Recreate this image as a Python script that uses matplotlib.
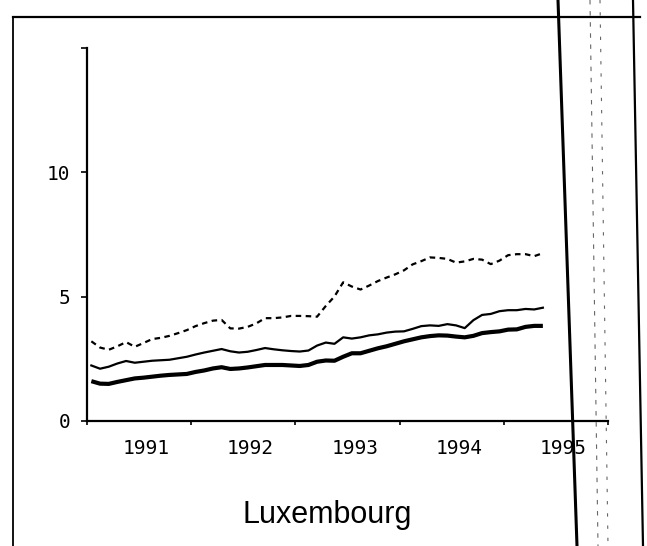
import matplotlib
matplotlib.use('Agg')
import matplotlib.pyplot as plt
from matplotlib.lines import Line2D
import numpy as np

# monthly series, Jan 1991 - May 1995
start_year = 1991
years = [1991, 1992, 1993, 1994, 1995]

dashed = [3.20, 2.95, 2.86, 3.00, 3.17, 2.98, 3.13, 3.29, 3.34, 3.42,
          3.53, 3.65, 3.81, 3.93, 4.03, 4.06, 3.72, 3.71, 3.78, 3.92,
          4.13, 4.13, 4.16, 4.22, 4.22, 4.21, 4.19, 4.62, 5.00, 5.57,
          5.40, 5.28, 5.44, 5.62, 5.76, 5.89, 6.05, 6.29, 6.42, 6.57,
          6.55, 6.51, 6.36, 6.41, 6.51, 6.48, 6.30, 6.44, 6.66, 6.70,
          6.70, 6.62, 6.74]

thin = [2.23, 2.10, 2.18, 2.31, 2.41, 2.34, 2.38, 2.42, 2.44, 2.46,
        2.52, 2.58, 2.67, 2.75, 2.82, 2.89, 2.80, 2.75, 2.78, 2.85,
        2.93, 2.88, 2.84, 2.81, 2.79, 2.83, 3.03, 3.15, 3.10, 3.36,
        3.31, 3.36, 3.44, 3.48, 3.55, 3.59, 3.60, 3.70, 3.81, 3.84,
        3.82, 3.89, 3.84, 3.73, 4.05, 4.26, 4.30, 4.41, 4.45, 4.45,
        4.50, 4.48, 4.55]

thick = [1.60, 1.50, 1.49, 1.57, 1.64, 1.71, 1.74, 1.78, 1.82, 1.85,
         1.87, 1.89, 1.97, 2.03, 2.11, 2.16, 2.09, 2.11, 2.15, 2.20,
         2.25, 2.25, 2.25, 2.23, 2.21, 2.25, 2.38, 2.43, 2.42, 2.58,
         2.72, 2.72, 2.82, 2.92, 3.00, 3.10, 3.20, 3.28, 3.36, 3.41,
         3.44, 3.43, 3.39, 3.36, 3.42, 3.53, 3.57, 3.60, 3.67, 3.68,
         3.78, 3.82, 3.82]

yticks = [0, 5, 10, 15]
ylabels = ['0', '5', '10', '']

W, H = 647, 546
fig = plt.figure(figsize=(W / 100, H / 100), dpi=100)
ax = fig.add_axes([87 / W, 125 / H, 521 / W, 373.5 / H])

x = start_year + (np.arange(len(thin)) + 0.5) / 12

ax.plot(x, dashed, color='black', lw=1.6, linestyle=(0, (2.5, 2)))
ax.plot(x, thin, color='black', lw=1.6)
ax.plot(x, thick, color='black', lw=3.0, solid_capstyle='butt')

ax.set_xlim(1991, 1996)
ax.set_ylim(0, 15)

for s in ['top', 'right']:
    ax.spines[s].set_visible(False)
for s in ['left', 'bottom']:
    ax.spines[s].set_linewidth(1.6)

mono = 'DejaVu Sans Mono'
ax.set_yticks(yticks)
ax.set_yticklabels(ylabels, fontsize=14, family=mono)
ax.tick_params(axis='y', direction='out', length=4, width=1.2, pad=8)

# year boundaries as ticks, year names between them
ax.set_xticks(list(range(1991, 1997)))
ax.set_xticklabels([''] * 6)
ax.tick_params(axis='x', which='major', direction='out', length=3, width=1.2)
ax.set_xticks([y + 0.57 for y in years], minor=True)
ax.set_xticklabels([str(y) for y in years], minor=True, fontsize=14, family=mono)
ax.tick_params(axis='x', which='minor', length=0, pad=13)

fig.text(327 / W, 1 - 515 / H, 'Luxembourg', ha='center', va='center',
         fontsize=22, family='Liberation Sans')


# frame and scan lines, in pixel coords of the page
def page_line(x0, y0, x1, y1, **kw):
    fig.add_artist(Line2D([x0 / W, x1 / W], [1 - y0 / H, 1 - y1 / H],
                          transform=fig.transFigure, color='black', **kw))


page_line(13, 17, 640, 17, lw=1.6)
page_line(13, 17, 13, 546, lw=1.3)
page_line(558, 0, 577, 546, lw=2.2)
page_line(633, 0, 643, 546, lw=1.6)
page_line(590, 0, 598, 546, lw=0.8, linestyle=(0, (4, 6)), alpha=0.6)
page_line(600, 0, 608, 546, lw=0.8, linestyle=(0, (3, 8)), alpha=0.6)

fig.savefig('out.png', dpi=100)
